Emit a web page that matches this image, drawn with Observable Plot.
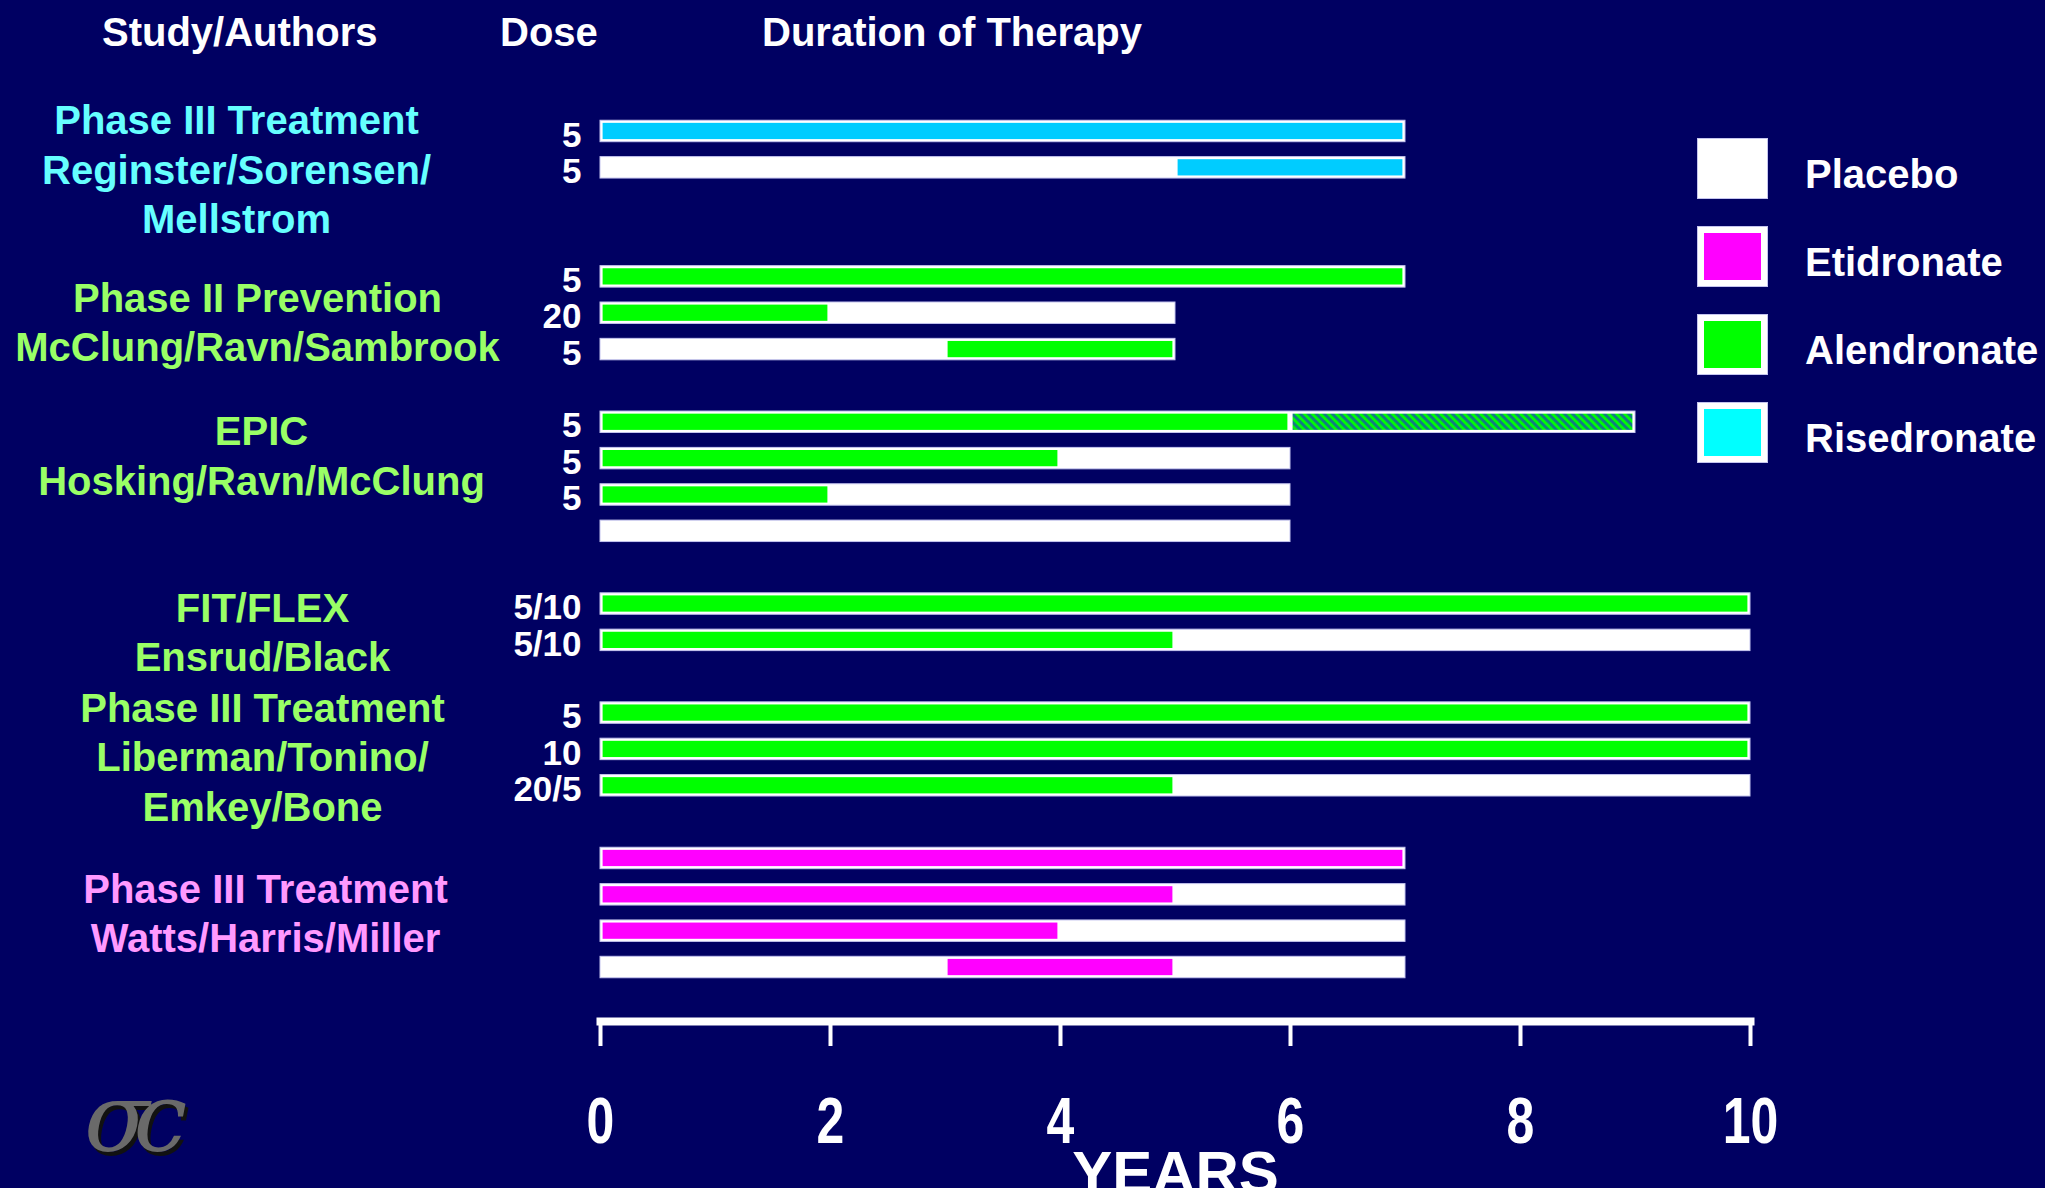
<!DOCTYPE html>
<html><head><meta charset="utf-8">
<script src="https://cdn.jsdelivr.net/npm/d3@7"></script>
<script src="https://cdn.jsdelivr.net/npm/@observablehq/plot@0.6"></script>
<style>
html,body{margin:0;padding:0;background:#000062;}
#wrap{position:relative;width:2045px;height:1188px;overflow:hidden;background:#000062;font-family:"Liberation Sans",Arial,Helvetica,sans-serif;font-weight:bold;color:#fff;}
.abs{position:absolute;white-space:nowrap;font-size:40px;line-height:40px;font-weight:bold;}
#chart{position:absolute;left:0;top:0;}
.sw{position:absolute;box-sizing:border-box;width:69px;height:59px;border:6px solid #fff;outline:1px solid #c4c4ee;}
</style></head><body>
<svg width="0" height="0" style="position:absolute">
  <defs>
    <pattern id="hatch" patternUnits="userSpaceOnUse" width="5.66" height="5.66" patternTransform="rotate(-45)">
      <rect width="5.66" height="5.66" fill="#137a86"></rect>
      <rect width="2.7" height="5.66" fill="#00ff00"></rect>
    </pattern>
  </defs>
</svg>
<div id="wrap"><div id="chart"></div></div>
<script>
// ---------------- DATA ----------------
const headers = ["Study/Authors", "Dose", "Duration of Therapy"];
const studyLabels = [
  "Phase III Treatment\nReginster/Sorensen/\nMellstrom",
  "Phase II Prevention\nMcClung/Ravn/Sambrook",
  "EPIC\nHosking/Ravn/McClung",
  "FIT/FLEX\nEnsrud/Black",
  "Phase III Treatment\nLiberman/Tonino/\nEmkey/Bone",
  "Phase III Treatment\nWatts/Harris/Miller"
];
const studyDrug = ["Risedronate", "Alendronate", "Alendronate", "Alendronate", "Alendronate", "Etidronate"];
// one entry per treatment arm (bar)
const armStudy = [0, 0, 1, 1, 1, 2, 2, 2, 2, 3, 3, 4, 4, 4, 5, 5, 5, 5];
const armDose  = ["5", "5", "5", "20", "5", "5", "5", "5", "", "5/10", "5/10", "5", "10", "20/5", "", "", "", ""];
const armYears = [7, 7, 7, 5, 5, 9, 6, 6, 6, 10, 10, 10, 10, 10, 7, 7, 7, 7]; // total duration (placebo where no drug)
// active-drug segments drawn over the placebo bars
const segArm   = [0, 1, 2, 3, 4, 5, 5, 6, 7, 9, 10, 11, 12, 13, 14, 15, 16, 17];
const segDrug  = ["Risedronate", "Risedronate", "Alendronate", "Alendronate", "Alendronate", "Alendronate", "Alendronate extension",
                  "Alendronate", "Alendronate", "Alendronate", "Alendronate", "Alendronate", "Alendronate", "Alendronate",
                  "Etidronate", "Etidronate", "Etidronate", "Etidronate"];
const segStart = [0, 5, 0, 0, 3, 0, 6, 0, 0, 0, 0, 0, 0, 0, 0, 0, 0, 3];
const segEnd   = [7, 7, 7, 2, 5, 6, 9, 4, 2, 10, 5, 10, 10, 5, 7, 5, 4, 5];
const xTicks = [0, 2, 4, 6, 8, 10];
const xLabel = "YEARS";
const legendLabels = ["Placebo", "Etidronate", "Alendronate", "Risedronate"];

// ---------------- STYLE / LAYOUT ----------------
const drugColor = {Placebo: "#ffffff", Etidronate: "#ff00ff", Alendronate: "#00ff00", Risedronate: "#00ccff", "Alendronate extension": "url(#hatch)"};
const legendColor = ["#ffffff", "#ff00ff", "#00ff00", "#00ffff"];
const textColor = {Risedronate: "#66ffff", Alendronate: "#99ff66", Etidronate: "#ff99ff"};
const studyGap = [2, 1, 1, 1, 1];               // empty row slots after each study
const labelShift = [0.5, 0.2, -0.62, 0.23, 0.17, -0.03]; // label offset (row units)
const labelDx = [-364, -343, -339, -338, -338, -335];
const headerPos = [[102, 12], [500, 12], [762, 12]];
const FONT = '"Liberation Sans", Arial, Helvetica, sans-serif';

// row slots
const armSlot = [];
let slot = 0;
armStudy.forEach((s, i) => {
  if (i > 0) slot += (s !== armStudy[i - 1]) ? 1 + studyGap[armStudy[i - 1]] : 1;
  armSlot.push(slot);
});
const arms = armStudy.map((s, i) => ({study: s, dose: armDose[i], years: armYears[i], slot: armSlot[i]}));
const segs = segArm.map((a, i) => ({slot: armSlot[a], drug: segDrug[i], start: segStart[i], end: segEnd[i]}));
const studyY = studyLabels.map((_, g) => d3.mean(arms.filter(a => a.study === g), a => a.slot) + labelShift[g]);
const half = 0.295;

const chart = Plot.plot({
  width: 2045, height: 1188,
  marginLeft: 600, marginRight: 295, marginTop: 113, marginBottom: 167,
  x: {domain: [0, 10]},
  y: {domain: [-0.5, 23.5], range: [112.8, 985.2], axis: null},
  color: {domain: Object.keys(drugColor), range: Object.values(drugColor)},
  style: {background: "transparent", color: "white", fontFamily: FONT, overflow: "visible"},
  marks: [
    Plot.rect(arms, {x1: () => 0, x2: "years", y1: d => d.slot - half, y2: d => d.slot + half,
      fill: drugColor.Placebo, stroke: "#c4c4ee", strokeWidth: 1}),
    Plot.rect(segs, {x1: "start", x2: "end", y1: d => d.slot - half, y2: d => d.slot + half,
      fill: "drug", inset: 2.6}),
    Plot.text(arms.filter(d => d.dose), {x: () => 0, y: "slot", text: "dose", textAnchor: "end",
      dx: -19, dy: 4, fill: "white", fontSize: 35, fontWeight: "bold"}),
    ...studyLabels.map((t, i) => Plot.text([t], {x: () => 0, y: () => studyY[i], text: d => d,
      dx: labelDx[i], fill: textColor[studyDrug[i]], fontSize: 40, fontWeight: "bold",
      lineHeight: 1.23, textAnchor: "middle"})),
    Plot.frame({anchor: "bottom", stroke: "white", strokeWidth: 8}),
    Plot.axisX({ticks: xTicks, tickSize: 25, tickPadding: 51, strokeWidth: 4, stroke: "white",
      fill: "white", fontSize: 64, fontWeight: "bold", label: null, tickFormat: d => String(d)}),
    Plot.text([xLabel], {frameAnchor: "bottom", dy: 129, lineAnchor: "top", fontSize: 60,
      fontWeight: "bold", fill: "white", ariaLabel: "years"})
  ]
});
document.getElementById("chart").appendChild(chart);

// condensed lettering for the axis
function condense(sel, s) {
  chart.querySelectorAll(sel).forEach(el => {
    const t = el.getAttribute("transform") || "";
    el.setAttribute("transform", t + ` scale(${s},1)`);
  });
}
condense('g[aria-label="x-axis tick label"] text', 0.78);
condense('g[aria-label="years"] text', 0.72);

// headers
const wrap = document.getElementById("wrap");
headers.forEach((h, i) => {
  const d = document.createElement("div");
  d.className = "abs";
  d.textContent = h;
  d.style.left = headerPos[i][0] + "px";
  d.style.top = headerPos[i][1] + "px";
  wrap.appendChild(d);
});
// legend
legendLabels.forEach((lab, i) => {
  const top = 139 + i * 88;
  const sw = document.createElement("div");
  sw.className = "sw";
  sw.style.left = "1698px";
  sw.style.top = top + "px";
  sw.style.background = legendColor[i];
  wrap.appendChild(sw);
  const t = document.createElement("div");
  t.className = "abs";
  t.textContent = lab;
  t.style.left = "1805px";
  t.style.top = (top + 15) + "px";
  wrap.appendChild(t);
});
// logo
const logo = document.createElement("div");
logo.className = "abs";
logo.textContent = "σc";
Object.assign(logo.style, {left: "84px", top: "1070px", fontFamily: "'DejaVu Serif', serif", fontStyle: "italic",
  fontWeight: "normal", fontSize: "96px", lineHeight: "96px", color: "#6a6a6a", textShadow: "3px 4px 0 #111", letterSpacing: "-16px"});
wrap.appendChild(logo);
</script>
</body></html>
